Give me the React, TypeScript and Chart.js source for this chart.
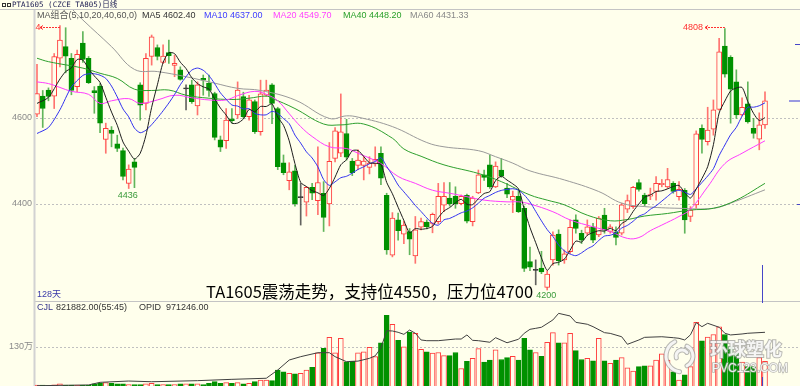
import React, { useEffect, useRef } from "react";
import { Chart, registerables } from "chart.js";

Chart.register(...registerables);

const W = 800;
const H = 386;
const BG = "#ffffec";
const RED = "#ff3c3c";
const GREEN = "#009100";
const WICK_UP = "rgba(255,80,80,0.8)";
const WICK_DN = "rgba(30,150,30,0.7)";
const DOJI = "#333333";

// ---- daily candles (PTA1605), 128 days ----
const opens = [
  4609, 4651, 4665, 4651, 4739, 4766, 4739, 4673, 4774, 4739,
  4664, 4674, 4550, 4572, 4540, 4524, 4448, 4498, 4677, 4634,
  4743, 4764, 4729, 4752, 4722, 4712, 4669, 4677, 4628, 4692,
  4681, 4657, 4549, 4547, 4598, 4607, 4650, 4603, 4638, 4568,
  4653, 4677, 4622, 4496, 4454, 4477, 4416, 4404, 4439, 4408,
  4425, 4400, 4506, 4518, 4564, 4500, 4490, 4490, 4485, 4493,
  4518, 4420, 4281, 4363, 4330, 4336, 4279, 4346, 4358, 4355,
  4359, 4397, 4414, 4418, 4401, 4420, 4359, 4426, 4468, 4491,
  4440, 4479, 4437, 4409, 4418, 4390, 4266, 4247, 4251, 4206,
  4270, 4330, 4270, 4289, 4363, 4332, 4332, 4347, 4328, 4374,
  4336, 4335, 4332, 4388, 4394, 4450, 4421, 4418, 4429, 4445,
  4440, 4448, 4417, 4432, 4371, 4398, 4576, 4545, 4574, 4620,
  4767, 4741, 4684, 4607, 4633, 4576, 4551, 4584,
];
const highs = [
  4725, 4664, 4670, 4750, 4815, 4810, 4750, 4758, 4801, 4743,
  4673, 4680, 4588, 4580, 4560, 4530, 4491, 4506, 4682, 4750,
  4793, 4770, 4770, 4781, 4746, 4719, 4677, 4688, 4684, 4700,
  4700, 4660, 4558, 4622, 4622, 4684, 4660, 4653, 4642, 4688,
  4688, 4680, 4625, 4514, 4496, 4490, 4448, 4441, 4448, 4533,
  4452, 4543, 4578, 4656, 4597, 4506, 4526, 4510, 4510, 4533,
  4533, 4425, 4380, 4379, 4360, 4343, 4371, 4367, 4363, 4379,
  4448, 4450, 4450, 4440, 4421, 4423, 4418, 4479, 4479, 4514,
  4498, 4506, 4448, 4430, 4431, 4395, 4300, 4270, 4290, 4245,
  4335, 4340, 4293, 4363, 4375, 4339, 4363, 4355, 4371, 4390,
  4352, 4347, 4402, 4421, 4441, 4457, 4425, 4437, 4464, 4457,
  4483, 4452, 4452, 4436, 4394, 4570, 4584, 4625, 4642, 4785,
  4808, 4745, 4712, 4647, 4684, 4599, 4612, 4661,
];
const lows = [
  4603, 4578, 4640, 4622, 4719, 4705, 4654, 4661, 4729, 4680,
  4611, 4566, 4518, 4533, 4522, 4456, 4436, 4438, 4595, 4619,
  4723, 4735, 4727, 4727, 4696, 4688, 4619, 4634, 4607, 4653,
  4650, 4549, 4522, 4529, 4588, 4599, 4598, 4595, 4564, 4560,
  4650, 4587, 4480, 4468, 4433, 4395, 4351, 4372, 4410, 4375,
  4336, 4349, 4498, 4510, 4502, 4466, 4480, 4456, 4470, 4488,
  4445, 4283, 4277, 4316, 4308, 4282, 4262, 4340, 4342, 4333,
  4354, 4382, 4395, 4390, 4398, 4356, 4349, 4424, 4455, 4436,
  4438, 4462, 4415, 4380, 4380, 4243, 4245, 4212, 4238, 4200,
  4258, 4258, 4262, 4285, 4332, 4308, 4327, 4310, 4324, 4332,
  4332, 4305, 4328, 4380, 4390, 4430, 4395, 4410, 4409, 4440,
  4436, 4425, 4409, 4332, 4359, 4390, 4518, 4537, 4560, 4618,
  4695, 4588, 4599, 4605, 4588, 4553, 4526, 4576,
];
const closes = [
  4657, 4622, 4650, 4743, 4781, 4744, 4664, 4748, 4736, 4682,
  4659, 4588, 4576, 4564, 4529, 4464, 4481, 4485, 4630, 4739,
  4789, 4743, 4744, 4745, 4727, 4690, 4669, 4638, 4677, 4688,
  4664, 4555, 4532, 4595, 4594, 4665, 4603, 4642, 4568, 4656,
  4665, 4634, 4487, 4473, 4475, 4400, 4416, 4439, 4425, 4450,
  4369, 4499, 4570, 4568, 4509, 4473, 4502, 4500, 4495, 4504,
  4460, 4293, 4367, 4338, 4351, 4318, 4340, 4359, 4347, 4376,
  4418, 4418, 4400, 4401, 4418, 4360, 4414, 4468, 4462, 4440,
  4488, 4465, 4423, 4418, 4382, 4250, 4253, 4247, 4242, 4237,
  4328, 4268, 4284, 4346, 4343, 4316, 4347, 4316, 4367, 4339,
  4347, 4322, 4398, 4408, 4439, 4434, 4401, 4422, 4448, 4448,
  4457, 4429, 4434, 4363, 4386, 4563, 4550, 4572, 4619, 4754,
  4702, 4667, 4607, 4625, 4591, 4564, 4584, 4640,
];
// volume, in 万 lots
const volumes = [
  70, 70, 69.5, 70.5, 72, 70, 70, 70, 70, 70,
  72, 73, 74, 73, 72, 72, 71, 71, 71, 72,
  73, 71, 71, 71, 71, 72, 72, 72, 72, 71,
  73, 75.5, 73, 74, 73, 74, 72, 73, 75.5, 78,
  78, 77, 93.5, 91, 88.5, 87.5, 88.5, 93.5, 98, 120.5,
  127.5, 144.5, 120.5, 143, 106.5, 107.5, 120.5, 122, 129, 114.5,
  136, 179, 165, 140, 130, 153, 151, 126, 122, 120,
  121, 116, 116, 121, 96, 107, 112, 127, 106, 109,
  125, 110, 113, 115, 109, 143, 125, 121, 115, 137,
  152, 136, 136, 151, 124, 110, 112, 108, 143, 108,
  104, 109, 113, 97, 92, 99, 100, 100, 109, 119,
  109, 91, 78, 86, 99, 168, 139, 145, 149, 161,
  149, 130, 120, 106, 99, 99, 113, 107,
];

// moving-average values (day index / price)
const ma5HeadIdx = [0, 2];
const ma5HeadVal = [4634, 4648];
const ma10HeadIdx = [0, 2, 4, 6, 8];
const ma10HeadVal = [4564, 4578, 4619, 4672, 4699];
const ma20Idx = [0, 2, 4, 6, 9, 11, 13, 16, 18, 21, 24, 27, 30, 33, 35, 38, 40, 42, 44, 46, 48, 51, 54, 56, 60, 63, 66, 69, 72, 75, 78, 82, 84, 86, 90, 93, 97, 100, 103, 105, 107, 109, 112, 114, 117, 120, 123, 127];
const ma20Val = [4684, 4680, 4671, 4662, 4655, 4634, 4640, 4645, 4634, 4642, 4653, 4647, 4642, 4642, 4652, 4662, 4655, 4640, 4610, 4580, 4557, 4533, 4529, 4518, 4494, 4464, 4448, 4432, 4425, 4417, 4409, 4405, 4405, 4400, 4382, 4363, 4347, 4336, 4320, 4322, 4338, 4351, 4371, 4388, 4440, 4494, 4518, 4547];
const ma40Idx = [0, 2, 8, 11, 14, 17, 20, 23, 26, 30, 34, 37, 40, 41, 45, 50, 53, 57, 62, 64, 67, 71, 77, 81, 86, 89, 92, 96, 100, 103, 106, 110, 114, 118, 122, 127];
const ma40Val = [4739, 4731, 4716, 4704, 4692, 4667, 4664, 4665, 4653, 4646, 4643, 4646, 4651, 4646, 4622, 4586, 4584, 4586, 4553, 4528, 4511, 4491, 4471, 4452, 4421, 4409, 4398, 4374, 4361, 4364, 4372, 4378, 4386, 4390, 4409, 4448];
const ma60Idx = [6, 8, 13, 17, 21, 26, 31, 35, 39, 45, 51, 54, 56, 62, 68, 71, 77, 80, 83, 86, 92, 98, 102, 106, 112, 118, 121, 127];
const ma60Val = [4855, 4828, 4766, 4713, 4708, 4696, 4681, 4669, 4664, 4642, 4599, 4605, 4602, 4580, 4543, 4533, 4524, 4510, 4495, 4477, 4456, 4429, 4402, 4394, 4390, 4390, 4402, 4433];
// open interest (OPID), in 万 lots
const oiIdx = [0, 9, 11, 16, 20, 28, 34, 40, 42, 44, 46, 49, 51, 52, 54, 56, 58, 59, 60, 61, 62, 63, 64, 65, 66, 67, 68, 70, 73, 74, 75, 76, 77, 79, 80, 82, 84, 85, 86, 87, 88, 90, 91, 93, 94, 96, 97, 99, 100, 102, 103, 105, 106, 109, 111, 112, 113, 114, 115, 116, 117, 119, 120, 121, 123, 124, 127];
const oiVal = [52.6, 53.2, 55.4, 56.5, 55.9, 56.8, 57.9, 58.8, 65.7, 74.0, 76.8, 80.1, 80.1, 76.8, 72.6, 73.1, 75.4, 77.5, 84.0, 98.4, 98.2, 97.1, 95.4, 99.0, 96.3, 90.7, 90.1, 90.1, 91.5, 91.5, 94.9, 90.4, 90.1, 88.8, 92.6, 88.4, 91.3, 96.3, 99.6, 100.4, 101.3, 107.4, 112.9, 110.7, 105.4, 103.8, 101.8, 96.8, 96.2, 93.4, 87.1, 90.7, 92.9, 93.4, 92.6, 92.1, 90.7, 95.0, 105.1, 101.8, 104.6, 101.3, 96.3, 94.9, 95.7, 96.3, 97.1];

const priceTicks = [4400, 4600];
const volTicks = [130];

const legendItems = [
  { text: "MA组合(5,10,20,40,60,0)", color: "#555555" },
  { text: "MA5 4602.40", color: "#333333" },
  { text: "MA10 4637.00", color: "#3c3cff" },
  { text: "MA20 4549.70", color: "#ff44ff" },
  { text: "MA40 4448.20", color: "#2aa02a" },
  { text: "MA60 4431.33", color: "#888888" },
];
const legendX = [37, 142, 204, 273, 343, 410];

const pts = (xs: number[], ys: number[]) => xs.map((x, k) => ({ x, y: ys[k] }));

function movingAverage(period: number, headIdx: number[], headVal: number[]) {
  const out = pts(headIdx, headVal);
  for (let i = period - 1; i < closes.length; i++) {
    let s = 0;
    for (let k = i - period + 1; k <= i; k++) s += closes[k];
    out.push({ x: i, y: s / period });
  }
  return out;
}

const SMALL = '9px "Liberation Sans", "Noto Sans CJK SC", sans-serif';

export default function App() {
  const ref = useRef<HTMLCanvasElement>(null);

  useEffect(() => {
    document.body.style.margin = "0";
    const canvas = ref.current;
    if (!canvas) return;

    const isUp = closes.map((c, i) => c > opens[i]);
    const isDoji = closes.map((c, i) => c === opens[i]);
    const bodyFill = closes.map((_, i) => (isDoji[i] ? DOJI : isUp[i] ? BG : GREEN));
    const bodyBorder = closes.map((_, i) => (isDoji[i] ? DOJI : isUp[i] ? RED : GREEN));
    const wickColor = closes.map((_, i) => (isDoji[i] ? "rgba(60,60,60,0.8)" : isUp[i] ? WICK_UP : WICK_DN));
    const volUp = closes.map((c, i) => c >= opens[i]);
    const volFill = volUp.map((u) => (u ? BG : GREEN));
    const volBorder = volUp.map((u) => (u ? RED : GREEN));

    const overlay = {
      id: "overlay",
      beforeDraw(chart: any) {
        const ctx = chart.ctx;
        ctx.save();
        ctx.fillStyle = BG;
        ctx.fillRect(0, 0, W, H);
        ctx.restore();
      },
      beforeDatasetsDraw(chart: any) {
        const ctx = chart.ctx;
        const ys = chart.scales.y;
        const yv = chart.scales.yv;
        ctx.save();
        ctx.strokeStyle = "#c4c4c4";
        ctx.lineWidth = 1;
        ctx.beginPath();
        ctx.moveTo(0, 9.5);
        ctx.lineTo(W, 9.5);
        ctx.moveTo(34, 301.5);
        ctx.lineTo(W, 301.5);
        ctx.stroke();
        ctx.fillStyle = "#d2d2d2";
        ctx.fillRect(33.5, 10, 2, H - 10);
        ctx.strokeStyle = "#c0c0c0";
        ctx.setLineDash([2, 2]);
        ctx.beginPath();
        priceTicks.forEach((v) => {
          const y = Math.round(ys.getPixelForValue(v)) + 0.5;
          ctx.moveTo(36, y);
          ctx.lineTo(W, y);
        });
        volTicks.forEach((v) => {
          const y = Math.round(yv.getPixelForValue(v)) + 0.5;
          ctx.moveTo(36, y);
          ctx.lineTo(W, y);
        });
        ctx.stroke();
        ctx.setLineDash([]);
        ctx.font = SMALL;
        ctx.fillStyle = "#8a8a8a";
        ctx.textAlign = "right";
        ctx.textBaseline = "middle";
        priceTicks.forEach((v) => ctx.fillText(String(v), 32, ys.getPixelForValue(v)));
        volTicks.forEach((v) => ctx.fillText(v + "万", 33, yv.getPixelForValue(v)));
        ctx.restore();
      },
      afterDatasetsDraw(chart: any) {
        const ctx = chart.ctx;
        const xs = chart.scales.x;
        const ys = chart.scales.y;
        ctx.save();
        ctx.textBaseline = "middle";
        ctx.textAlign = "left";

        // header
        ctx.strokeStyle = "#333";
        ctx.lineWidth = 1;
        ctx.strokeRect(2.5, 3.5, 3, 3);
        ctx.strokeRect(7.5, 3.5, 3, 3);
        ctx.font = '7.5px "DejaVu Sans Mono", "Noto Sans CJK SC", monospace';
        ctx.fillStyle = "#1a1a50";
        ctx.fillText("PTA1605 (CZCE TA805)日线", 12, 5);

        // MA legend
        ctx.font = SMALL;
        legendItems.forEach((it, k) => {
          ctx.fillStyle = it.color;
          ctx.fillText(it.text, legendX[k], 16);
        });

        // high / low markers
        ctx.fillStyle = "#ff3030";
        ctx.strokeStyle = "#ff3030";
        const hiIdx = 120;
        const hx = xs.getPixelForValue(hiIdx);
        const hy = Math.round(ys.getPixelForValue(highs[hiIdx])) - 1.5;
        ctx.textAlign = "right";
        ctx.fillText(String(highs[hiIdx]), 703, hy);
        const arrow = (x0: number, x1: number, y: number) => {
          ctx.beginPath();
          ctx.moveTo(x0 + 3, y - 2);
          ctx.lineTo(x0, y);
          ctx.lineTo(x0 + 3, y + 2);
          ctx.stroke();
          ctx.setLineDash([2, 1]);
          ctx.beginPath();
          ctx.moveTo(x0, y);
          ctx.lineTo(x1, y);
          ctx.stroke();
          ctx.setLineDash([]);
        };
        arrow(705, hx, hy);
        const lhx = xs.getPixelForValue(4);
        ctx.textAlign = "left";
        ctx.fillText("4", 35.5, 27.5);
        arrow(40, lhx, 27.5);

        ctx.fillStyle = "#3a9a3a";
        ctx.textAlign = "center";
        ctx.fillText(String(lows[16]), xs.getPixelForValue(16) - 1, ys.getPixelForValue(lows[16]) + 7);
        ctx.fillText(String(lows[89]), xs.getPixelForValue(89) - 1, ys.getPixelForValue(lows[89]) + 5.5);

        // bottom notes
        ctx.textAlign = "left";
        ctx.fillStyle = "#3a3aa8";
        ctx.fillText("128天", 37, 295);
        ctx.font = '16.5px "Noto Sans CJK SC", sans-serif';
        ctx.fillStyle = "#000";
        ctx.textBaseline = "alphabetic";
        ctx.fillText("TA1605震荡走势，支持位4550，压力位4700", 206, 298);

        // volume header
        ctx.textBaseline = "middle";
        ctx.font = SMALL;
        ctx.fillStyle = "#33338a";
        ctx.fillText("CJL", 37, 307.5);
        ctx.fillStyle = "#333";
        ctx.fillText("821882.00(55:45)", 56, 307.5);
        ctx.fillText("OPID", 139, 307.5);
        ctx.fillText("971246.00", 166, 307.5);

        // cursor remnants on the right
        ctx.strokeStyle = "#4646c8";
        ctx.lineWidth = 1;
        ctx.beginPath();
        ctx.moveTo(795, 44.5);
        ctx.lineTo(W, 44.5);
        ctx.moveTo(797, 204.5);
        ctx.lineTo(W, 204.5);
        ctx.moveTo(762.5, 265);
        ctx.lineTo(762.5, 303);
        ctx.moveTo(762.5, 377);
        ctx.lineTo(762.5, H);
        ctx.stroke();
        ctx.strokeStyle = "#9a9ae0";
        ctx.lineWidth = 2;
        ctx.beginPath();
        ctx.moveTo(789, 101);
        ctx.lineTo(W, 101);
        ctx.stroke();

        // watermark
        ctx.globalAlpha = 0.85;
        ctx.lineCap = "round";
        const arcs = [
          [682, 356, 16, 0.55, 1.35],
          [682, 356, 11, -0.35, 0.35],
          [682, 356, 6, 0.9, 1.8],
        ];
        arcs.forEach(([cx, cy, r, a0, a1]) => {
          ctx.strokeStyle = "rgba(150,150,150,0.8)";
          ctx.lineWidth = 5;
          ctx.beginPath();
          ctx.arc(cx, cy, r, a0 * Math.PI, a1 * Math.PI);
          ctx.stroke();
          ctx.strokeStyle = "#ffffff";
          ctx.lineWidth = 3;
          ctx.beginPath();
          ctx.arc(cx, cy, r, a0 * Math.PI, a1 * Math.PI);
          ctx.stroke();
        });
        ctx.textBaseline = "alphabetic";
        ctx.font = 'bold 18px "Noto Sans CJK SC", sans-serif';
        ctx.lineWidth = 2;
        ctx.strokeStyle = "rgba(150,150,150,0.8)";
        ctx.fillStyle = "#ffffff";
        ctx.strokeText("环球塑化", 710, 356);
        ctx.fillText("环球塑化", 710, 356);
        ctx.font = '12px "Liberation Sans", sans-serif';
        ctx.lineWidth = 1.5;
        ctx.strokeText("PVC123.COM", 712, 372);
        ctx.fillText("PVC123.COM", 712, 372);
        ctx.restore();
      },
    };

    const chart = new Chart(canvas, {
      type: "bar",
      data: {
        datasets: [
          { type: "line", label: "MA5", data: movingAverage(5, ma5HeadIdx, ma5HeadVal), borderColor: "#1e1e1e", borderWidth: 1, pointRadius: 0, tension: 0.25, yAxisID: "y", order: 0 },
          { type: "line", label: "MA10", data: movingAverage(10, ma10HeadIdx, ma10HeadVal), borderColor: "#3232f0", borderWidth: 1, pointRadius: 0, tension: 0.25, yAxisID: "y", order: 0 },
          { type: "line", label: "MA20", data: pts(ma20Idx, ma20Val), borderColor: "#ff3cff", borderWidth: 1, pointRadius: 0, tension: 0.4, yAxisID: "y", order: 0 },
          { type: "line", label: "MA40", data: pts(ma40Idx, ma40Val), borderColor: "#2ea02e", borderWidth: 1, pointRadius: 0, tension: 0.4, yAxisID: "y", order: 0 },
          { type: "line", label: "MA60", data: pts(ma60Idx, ma60Val), borderColor: "#9a9a9a", borderWidth: 1, pointRadius: 0, tension: 0.4, yAxisID: "y", order: 0 },
          {
            type: "bar", label: "body",
            data: closes.map((c, i) => ({ x: i, y: isDoji[i] ? [c - 1.2, c + 1.2] : [opens[i], c] })),
            backgroundColor: bodyFill, borderColor: bodyBorder, borderWidth: 1, borderSkipped: false,
            barThickness: 5, grouped: false, yAxisID: "y", order: 1,
          },
          {
            type: "bar", label: "wick",
            data: highs.map((h, i) => ({ x: i, y: [lows[i], h] })),
            backgroundColor: wickColor, borderWidth: 0, barThickness: 1, grouped: false, yAxisID: "y", order: 2,
          },
          {
            type: "bar", label: "CJL",
            data: volumes.map((v, i) => ({ x: i, y: v })),
            backgroundColor: volFill, borderColor: volBorder, borderWidth: 1, borderSkipped: false,
            barThickness: 5, grouped: false, yAxisID: "yv", order: 3,
          },
          { type: "line", label: "OPID", data: pts(oiIdx, oiVal), borderColor: "#404040", borderWidth: 1, pointRadius: 0, tension: 0, yAxisID: "yo", order: 0 },
        ] as any,
      },
      options: {
        animation: false,
        responsive: false,
        devicePixelRatio: 1,
        events: [],
        layout: { padding: { left: 35, top: 10, right: 0, bottom: 0 } },
        plugins: { legend: { display: false }, tooltip: { enabled: false } },
        scales: {
          x: { type: "linear", offset: false, grid: { offset: false }, min: -0.349, max: 133.106, display: false },
          y: { type: "linear", position: "left", min: 3976.74, max: 4851.16, display: false },
          yv: { type: "linear", position: "left", min: 68.7, max: 655.3, display: false },
          yo: { type: "linear", position: "left", min: 52.35, max: 365.7, display: false },
        },
      } as any,
      plugins: [overlay],
    });

    return () => chart.destroy();
  }, []);

  return (
    <div style={{ width: W, height: H, background: BG }}>
      <canvas ref={ref} width={W} height={H} style={{ display: "block" }} />
    </div>
  );
}
